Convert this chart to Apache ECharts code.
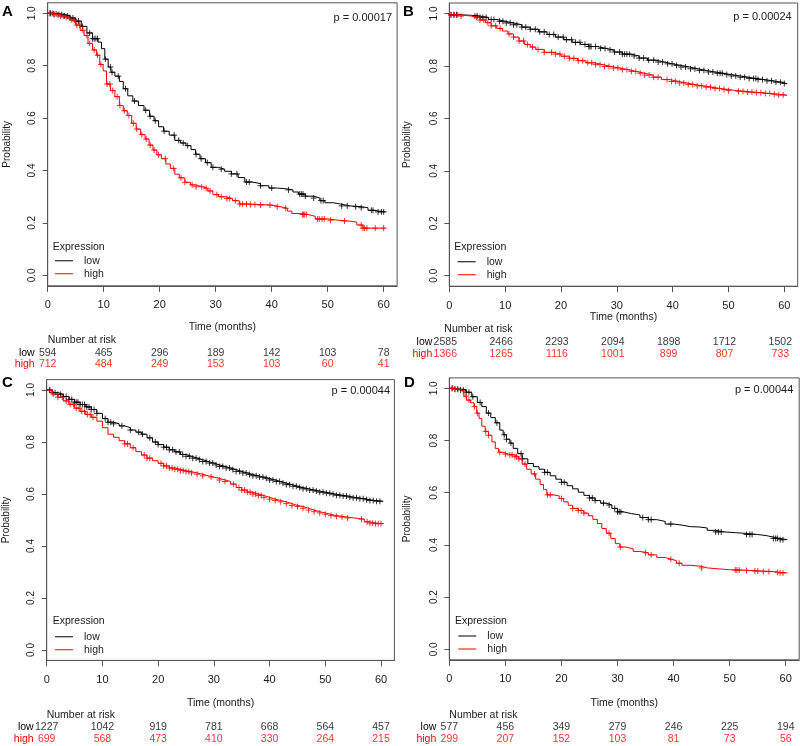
<!DOCTYPE html>
<html><head><meta charset="utf-8">
<script src="https://cdn.jsdelivr.net/npm/echarts@6/dist/echarts.min.js"></script>
<style>html,body{margin:0;padding:0;background:#fff}#c{width:800px;height:746px}</style>
</head><body><div id="c"></div>
<script>
// ---------- DATA ----------
const timeTicks = [0, 10, 20, 30, 40, 50, 60];
const probTicks = [0, 0.2, 0.4, 0.6, 0.8, 1.0];
const riskTimes = [0, 10, 20, 30, 40, 50, 60];
const groupNames = ['low', 'high'];
const panelLetters = ['A', 'B', 'C', 'D'];
const pValues = ['p = 0.00017', 'p = 0.00024', 'p = 0.00044', 'p = 0.00044'];

const riskLowA = [594, 465, 296, 189, 142, 103, 78];
const riskHighA = [712, 484, 249, 153, 103, 60, 41];
const riskLowB = [2585, 2466, 2293, 2094, 1898, 1712, 1502];
const riskHighB = [1366, 1265, 1116, 1001, 899, 807, 733];
const riskLowC = [1227, 1042, 919, 781, 668, 564, 457];
const riskHighC = [699, 568, 473, 410, 330, 264, 215];
const riskLowD = [577, 456, 349, 279, 246, 225, 194];
const riskHighD = [299, 207, 152, 103, 81, 73, 56];

const survLowA = [[0,1.0],[1,0.998],[2,0.995],[3,0.99],[4,0.982],[5,0.97],[6,0.95],[7,0.925],[8,0.903],[9,0.89],[9.6,0.865],[10.2,0.825],[10.8,0.795],[11.3,0.775],[12,0.76],[12.8,0.74],[13.5,0.712],[14.3,0.685],[15.2,0.665],[16.2,0.648],[17.2,0.63],[18.2,0.607],[19,0.59],[19.8,0.567],[20.7,0.55],[21.7,0.535],[22.7,0.515],[23.7,0.505],[24.7,0.495],[25.6,0.48],[26.4,0.462],[27.2,0.445],[28.2,0.43],[29.2,0.412],[30.5,0.405],[31.6,0.397],[32.8,0.387],[34,0.373],[35.2,0.356],[36.5,0.35],[38,0.342],[39.5,0.333],[41,0.33],[42.7,0.326],[43.8,0.318],[44.8,0.31],[46,0.302],[47.5,0.295],[48.6,0.285],[49.5,0.277],[51,0.272],[52.3,0.265],[54,0.262],[56,0.258],[57.2,0.248],[58.2,0.242],[60.3,0.24]];
const survHighA = [[0,1.0],[1,0.995],[2,0.99],[3,0.985],[4,0.975],[5,0.955],[5.8,0.935],[6.5,0.915],[7.2,0.885],[8,0.86],[8.7,0.84],[9.3,0.805],[9.9,0.78],[10.5,0.73],[11.2,0.705],[12,0.682],[12.8,0.648],[13.5,0.628],[14.2,0.61],[15,0.58],[15.8,0.558],[16.6,0.537],[17.4,0.52],[18.1,0.497],[18.8,0.478],[19.5,0.46],[20.3,0.445],[21.1,0.425],[21.9,0.408],[22.7,0.386],[23.5,0.372],[24.5,0.355],[25.5,0.345],[26.5,0.338],[27.6,0.332],[28.6,0.322],[29.5,0.308],[30.5,0.3],[31.8,0.293],[33,0.285],[34.2,0.272],[36,0.27],[38,0.268],[40,0.262],[41.5,0.256],[42.8,0.245],[43.6,0.236],[45.2,0.232],[46.5,0.225],[47.8,0.215],[50,0.21],[52,0.207],[53.8,0.203],[55.2,0.192],[56.3,0.18],[60.3,0.18]];
const survLowB = [[0,0.995],[2,0.993],[4,0.99],[5.5,0.985],[7,0.977],[8.5,0.97],[10,0.964],[11.5,0.957],[13,0.948],[14.5,0.94],[16,0.93],[17.5,0.92],[19,0.91],[20.5,0.9],[22,0.89],[23.5,0.882],[25,0.874],[26.5,0.867],[28,0.861],[29.5,0.853],[31,0.845],[32.5,0.838],[34,0.83],[35.5,0.822],[37,0.815],[38.5,0.808],[40,0.802],[41.5,0.796],[43,0.789],[44.5,0.783],[46,0.777],[47.5,0.772],[49,0.767],[50.5,0.762],[52,0.757],[53.5,0.752],[55,0.748],[56.5,0.743],[58,0.738],[59.5,0.733],[60.4,0.73]];
const survHighB = [[0,0.995],[2,0.99],[4,0.985],[5.5,0.975],[6.5,0.965],[7.5,0.953],[8.5,0.943],[9.5,0.933],[10.5,0.922],[11.5,0.91],[12.5,0.895],[13.5,0.882],[14.5,0.872],[15.5,0.863],[17,0.852],[18.5,0.845],[20,0.837],[21.5,0.829],[23,0.82],[24.5,0.812],[26,0.805],[27.5,0.798],[29,0.792],[30.5,0.786],[32,0.779],[33.5,0.772],[35,0.765],[36.5,0.757],[38,0.748],[39.5,0.741],[41,0.735],[42.5,0.729],[44,0.724],[45.5,0.719],[47,0.714],[48.5,0.71],[50,0.706],[51.5,0.703],[53,0.7],[54.5,0.698],[56,0.695],[57.5,0.692],[59,0.689],[60.4,0.685]];
const survLowC = [[0,1.0],[1,0.99],[2,0.983],[3,0.975],[4,0.964],[5,0.953],[6,0.944],[7,0.935],[8,0.925],[9,0.91],[10,0.89],[11,0.876],[12,0.87],[13,0.862],[14,0.855],[15,0.846],[16,0.838],[17,0.83],[18,0.816],[19,0.8],[20,0.79],[21,0.78],[22,0.77],[23,0.762],[24,0.752],[25,0.745],[26,0.738],[27,0.732],[28,0.725],[29,0.719],[30,0.712],[31,0.706],[32,0.7],[33,0.694],[34,0.687],[35,0.681],[36,0.675],[37,0.67],[38,0.665],[39,0.66],[40,0.654],[41,0.648],[42,0.642],[43,0.636],[44,0.63],[45,0.625],[46,0.62],[47,0.615],[48,0.611],[49,0.607],[50,0.603],[51,0.599],[52,0.595],[53,0.592],[54,0.588],[55,0.585],[56,0.582],[57,0.578],[58,0.575],[59,0.572],[60.4,0.57]];
const survHighC = [[0,1.0],[1,0.985],[2,0.972],[3,0.958],[4,0.945],[5,0.93],[6,0.918],[7,0.906],[8,0.895],[9,0.88],[10,0.855],[11,0.83],[12,0.818],[13,0.805],[14,0.793],[15,0.778],[16,0.763],[17,0.75],[18,0.738],[19,0.728],[20,0.718],[21,0.708],[22,0.7],[23,0.695],[24,0.69],[25,0.686],[26,0.681],[27,0.676],[28,0.67],[29,0.665],[30,0.66],[31,0.654],[32,0.648],[33,0.638],[34,0.625],[35,0.615],[36,0.607],[37,0.6],[38,0.594],[39,0.587],[40,0.58],[41,0.575],[42,0.57],[43,0.563],[44,0.556],[45,0.552],[46,0.545],[47,0.538],[48,0.532],[49,0.527],[50,0.522],[51,0.517],[52,0.514],[53,0.511],[54,0.508],[55,0.506],[56,0.503],[57,0.493],[58,0.488],[59,0.486],[60.4,0.485]];
const survLowD = [[0,1.0],[1,0.997],[2,0.994],[3,0.985],[4,0.968],[5,0.946],[5.8,0.93],[6.6,0.905],[7.4,0.888],[8.2,0.868],[9,0.84],[9.6,0.822],[10.2,0.805],[10.8,0.79],[11.4,0.77],[12.2,0.75],[13,0.73],[14,0.712],[15,0.7],[16,0.69],[17,0.678],[18,0.665],[19,0.652],[20,0.64],[21,0.627],[22,0.615],[23,0.602],[24,0.59],[25,0.58],[26,0.57],[27,0.56],[28,0.553],[29,0.54],[30,0.527],[31,0.52],[32.5,0.515],[34,0.505],[35.5,0.497],[37,0.49],[38.5,0.48],[40,0.476],[41.5,0.47],[43,0.469],[44.5,0.465],[46,0.456],[47.5,0.45],[49,0.447],[51,0.444],[53,0.44],[55,0.436],[56.5,0.43],[57.8,0.425],[59,0.42],[60.3,0.419]];
const survHighD = [[0,1.0],[1,0.996],[2,0.99],[2.6,0.97],[3.1,0.955],[3.8,0.945],[4.4,0.93],[4.9,0.905],[5.3,0.885],[5.8,0.855],[6.4,0.835],[7,0.82],[7.6,0.795],[8.2,0.77],[8.8,0.755],[9.6,0.748],[10.6,0.745],[11.6,0.738],[12.4,0.73],[13,0.71],[13.8,0.69],[14.6,0.672],[15.4,0.652],[16.2,0.632],[16.8,0.612],[17.4,0.592],[18.5,0.588],[19.6,0.578],[20.4,0.565],[21.2,0.552],[22,0.54],[23,0.532],[24,0.522],[24.8,0.512],[25.6,0.498],[26.4,0.482],[27.2,0.463],[28,0.445],[28.8,0.425],[29.6,0.405],[30.4,0.392],[31.5,0.385],[32.8,0.375],[34,0.37],[35.5,0.362],[37,0.352],[38.5,0.345],[39.6,0.34],[40.5,0.33],[41.5,0.322],[43,0.318],[45,0.312],[46,0.305],[50,0.304],[52,0.302],[54,0.3],[56,0.298],[58,0.295],[59,0.293],[60.3,0.293]];

// censoring times (marks drawn on the curve)
const censorLowA = [0.5,1,1.5,2,2.5,3,3.5,4,4.5,5,5.5,6.2,7.5,8,8.3,8.6,8.9,10.3,11.2,11.5,12.6,13.9,15.5,17.5,18.3,19.2,20.8,22.6,23.4,24.2,25,26.5,27.4,28.5,29.5,31,32.8,33.8,35.5,36,38,40,43,45,45.3,45.6,46,47.5,48.8,49.2,52.5,53.5,55,56,57.8,58.1,59,59.6,60];
const censorHighA = [0.3,0.8,1.2,1.8,2.3,2.8,3.3,3.8,4.3,4.8,5.2,5.7,6.3,7,7.5,8.3,8.9,9.5,10.6,11.1,11.6,12.4,12.9,13.7,14.5,15.3,15.9,16.8,17.6,18.3,19,19.8,21,22.5,23.8,24.5,25.8,26.5,27.5,28.3,29,30.2,31,32,32.5,33.5,34.3,34.8,35.5,36.2,37,38,39.7,41,42.5,45.5,45.7,45.9,46.2,48.2,48.5,49,49.4,50.5,53,56,56.3,56.6,57,58.5,60];
const censorLowB = [0.3,0.8,1.3,4.6,5,5.5,6,6.6,7.5,8,9,9.6,10.2,10.9,11.5,12.1,13,13.7,14.5,15.4,16.2,17,17.9,18.7,19.5,20.4,21,21.9,22.6,23.4,24.3,25,25.2,25.4,26.2,27.1,27.9,28.8,29.6,30.5,31,31.4,31.8,32.3,33.1,34,34.8,35.7,36.6,37.4,38.2,39.1,39.9,40.7,41.5,42.3,43.2,44,44.8,45.6,46.4,47.2,48,48.5,48.9,49.7,50.5,51.3,52.1,52.9,53.7,54.5,54.9,55.3,56.1,56.9,57.7,58.5,59.3,60];
const censorHighB = [0.3,0.9,1.5,2.1,4.9,5.5,6.2,6.9,7.5,8.3,9.1,10.7,11.5,12.5,13.3,14,14.9,15.9,17,18.3,19,19.8,20.6,21.5,22.3,23.1,23.9,24.8,25.5,26.2,27,27.8,28.6,29.4,30.2,31,31.8,32.6,33.4,34.2,35,35.8,36.6,37.4,39,39.8,40.5,41.2,42,42.8,43.6,44.4,45.2,46,46.8,47.6,48.4,49.2,50,51.8,52.6,53.4,54.2,55,55.8,56.6,57.4,58.2,59,59.8];
const censorLowC = [0.5,1,1.5,2,2.5,3,3.5,4,4.5,5,5.3,5.6,6,6.4,6.8,7.2,7.6,8,8.5,9,10.5,11,11.5,12,13.5,15,16.5,17.2,18.5,19.5,20,21,21.5,22,22.6,23.2,23.8,24.4,25,25.6,26.2,26.8,27.4,28,28.6,29.2,29.8,30.4,31,31.6,32.2,32.8,33.4,34,34.6,35.2,35.8,36.4,37,37.6,38.2,38.8,39.4,40,40.6,41.2,41.8,42.4,43,43.6,44.2,44.8,45.4,46,46.6,47.2,47.8,48.4,49,49.6,50.2,50.8,51.4,52,52.6,53.2,53.8,54.4,55,55.6,56.2,56.8,57.4,58,58.6,59.2,59.8];
const censorHighC = [0.6,1.2,2,2.8,3.5,4.2,4.8,5.3,5.8,6.3,6.8,7.3,7.8,8.3,14,14.5,15.5,17.5,18,18.5,20.5,21,21.5,22,22.5,23,23.5,24,24.5,25,25.5,26,27,28,29.5,31,32,33.5,34.5,35,35.5,36,36.5,37,37.5,38,38.5,39,40,41,42,43,44,45,46,47,48,49,50,51,52,53,54,56.5,57.5,58,58.5,59,59.5,60];
const censorLowD = [0.5,1,1.5,2,2.5,3,3.5,4.2,5.5,7,8.5,9.8,10.2,11,12.8,13,17,17.5,20,20.5,25,25.5,26,27.5,28.5,29.5,30,30.3,30.6,34.5,35.5,36,39.5,47.5,48,48.5,53,53.6,54,57.8,58.2,58.5,59,59.5];
const censorHighD = [0.5,1,1.5,2.5,3,3.5,4.5,5,6.5,7,9,10,10.8,11.2,11.7,12,12.4,13.5,15.2,17.5,18,20,22,23,23.5,24,28.5,30.5,35,36,39.5,41,45,51,51.3,51.7,53,54.5,55,56,57,58.5,59,59.5];

// ---------- LAYOUT (positions only) ----------
const layouts = [
  {gl:47.7, gt:2.8, gw:349.4, gh:283, tl:47.7, tt:347.8, th:22, risk:[47.7,335], expr:[52.7,241.5], leg:[55,254.7], p:[408,12], let:[2,4], tGap:36, pGap:35},
  {gl:449.3, gt:3, gw:348.4, gh:283.2, tl:445.3, tt:335.5, th:24.6, risk:[444.3,323.3], expr:[454.3,242], leg:[457.7,255.7], p:[8.3,11.3], let:[403,4], tGap:24.5, pGap:37},
  {gl:46.7, gt:379.6, gw:347.7, gh:280.8, tl:46.7, tt:720.5, th:24.6, risk:[46.7,709.3], expr:[52.7,616], leg:[55,630.7], p:[410,385.5], let:[2,375], tGap:37, pGap:35.5},
  {gl:449.3, gt:377.9, gw:349.9, gh:281.9, tl:449.3, tt:720.5, th:24.6, risk:[449.3,709.3], expr:[455,615.7], leg:[458.3,630], p:[6.7,384], let:[404,375], tGap:37.5, pGap:37}
];

const panels = [
  {low:survLowA, high:survHighA, cLow:censorLowA, cHigh:censorHighA, rLow:riskLowA, rHigh:riskHighA},
  {low:survLowB, high:survHighB, cLow:censorLowB, cHigh:censorHighB, rLow:riskLowB, rHigh:riskHighB},
  {low:survLowC, high:survHighC, cLow:censorLowC, cHigh:censorHighC, rLow:riskLowC, rHigh:riskHighC},
  {low:survLowD, high:survHighD, cLow:censorLowD, cHigh:censorHighD, rLow:riskLowD, rHigh:riskHighD}
];

const FONT = "'Liberation Sans', Arial, Helvetica, sans-serif";
const TXT = '#1a1a1a';
const BOX = '#555';
const colors = {low:'#000000', high:'#ff0000'};
const XMAX = 62.4, YMIN = -0.04, YMAX = 1.04;
const plus = 'path://M5,0L5,10M0,5L10,5';
const lineIcon = 'path://M0,0L0.01,0ZM0,5.5L18,5.5L18,6.5L0,6.5ZM0,12L0.01,12Z';

function stepAt(curve, t) {
  let s = curve[0][1];
  for (const pt of curve) { if (pt[0] <= t) s = pt[1]; else break; }
  return s;
}

const option = {
  animation: false,
  textStyle: {fontFamily: FONT},
  grid: [], xAxis: [], yAxis: [], series: [], title: [], legend: []
};

panels.forEach((pn, i) => {
  const L = layouts[i];
  const gi = option.grid.length;
  option.grid.push({left:L.gl, top:L.gt, width:L.gw, height:L.gh, show:true, borderColor:BOX, borderWidth:1, backgroundColor:'transparent'});
  option.grid.push({left:L.tl, top:L.tt, width:L.gw, height:L.th, show:false});
  option.xAxis.push({
    gridIndex:gi, type:'value', min:0, max:XMAX, position:'bottom',
    name:'Time (months)', nameLocation:'middle', nameGap:L.tGap,
    nameTextStyle:{color:TXT, fontSize:10.5, fontFamily:FONT},
    axisLine:{show:true, onZero:false, lineStyle:{color:BOX, width:1}}, splitLine:{show:false},
    axisTick:{show:true, inside:false, length:6, lineStyle:{color:BOX}, customValues:timeTicks},
    axisLabel:{show:true, color:TXT, fontSize:11, margin:14, customValues:timeTicks, fontFamily:FONT}
  });
  option.xAxis.push({gridIndex:gi+1, type:'value', min:0, max:XMAX, show:false});
  option.yAxis.push({
    gridIndex:gi, type:'value', min:YMIN, max:YMAX, position:'left',
    name:'Probability', nameLocation:'middle', nameGap:L.pGap, nameRotate:90,
    nameTextStyle:{color:TXT, fontSize:10, fontFamily:FONT},
    axisLine:{show:true, onZero:false, lineStyle:{color:BOX, width:1}}, splitLine:{show:false},
    axisTick:{show:true, inside:false, length:5, lineStyle:{color:BOX}, customValues:probTicks},
    axisLabel:{show:true, color:TXT, fontSize:10, rotate:90, margin:10, customValues:probTicks,
      formatter:v => v.toFixed(1), fontFamily:FONT}
  });
  option.yAxis.push({
    gridIndex:gi+1, type:'category', data:groupNames, inverse:true,
    axisLine:{show:false}, axisTick:{show:false}, splitLine:{show:false},
    axisLabel:{show:true, interval:0, margin:13, fontSize:10.5, fontFamily:FONT,
      color: v => v === 'low' ? colors.low : colors.high}
  });
  const xi = option.xAxis.length - 2, yi = option.yAxis.length - 2;
  groupNames.forEach(g => {
    const curve = g === 'low' ? pn.low : pn.high;
    const cens = g === 'low' ? pn.cLow : pn.cHigh;
    const risk = g === 'low' ? pn.rLow : pn.rHigh;
    option.series.push({
      name:g, type:'line', xAxisIndex:xi, yAxisIndex:yi, data:curve, step:'end',
      symbol:'none', showSymbol:false, silent:true,
      lineStyle:{color:colors[g], width:1}, itemStyle:{color:colors[g]}
    });
    option.series.push({
      name:'censor-' + g + i, type:'scatter', xAxisIndex:xi, yAxisIndex:yi, silent:true,
      data: cens.map(t => [t, stepAt(curve, t)]),
      symbol:plus, symbolSize:6,
      itemStyle:{color:'transparent', borderColor:colors[g], borderWidth:1}
    });
    option.series.push({
      name:'risk-' + g + i, type:'scatter', xAxisIndex:xi+1, yAxisIndex:yi+1, silent:true,
      data: riskTimes.map((t, k) => [t, g, risk[k]]),
      symbolSize:1, itemStyle:{color:'rgba(0,0,0,0)'},
      label:{show:true, position:'inside', formatter:p => String(p.value[2]),
        color:colors[g], fontSize:10.5, fontFamily:FONT}
    });
  });
  option.title.push({text:panelLetters[i], left:L.let[0], top:L.let[1], padding:0,
    textStyle:{fontSize:15, fontWeight:'bold', color:'#000', fontFamily:FONT}});
  option.title.push({text:pValues[i], right:L.p[0], top:L.p[1], padding:0,
    textStyle:{fontSize:11, fontWeight:'normal', color:TXT, fontFamily:FONT}});
  option.title.push({text:'Number at risk', left:L.risk[0], top:L.risk[1], padding:0,
    textStyle:{fontSize:10.5, fontWeight:'normal', color:TXT, fontFamily:FONT}});
  option.title.push({text:'Expression', left:L.expr[0], top:L.expr[1], padding:0,
    textStyle:{fontSize:10.5, fontWeight:'normal', color:TXT, fontFamily:FONT}});
  option.legend.push({
    data:groupNames.map(g => ({name:g, icon:lineIcon, itemStyle:{color:colors[g]}})),
    left:L.leg[0], top:L.leg[1], orient:'vertical', padding:0,
    itemWidth:18, itemHeight:12, itemGap:1, selectedMode:false, symbolKeepAspect:false,
    textStyle:{fontSize:10.5, color:TXT, fontFamily:FONT, padding:[0,0,0,6]}
  });
});

const chart = echarts.init(document.getElementById('c'), null, {renderer:'canvas'});
chart.setOption(option);
</script>
</body></html>
